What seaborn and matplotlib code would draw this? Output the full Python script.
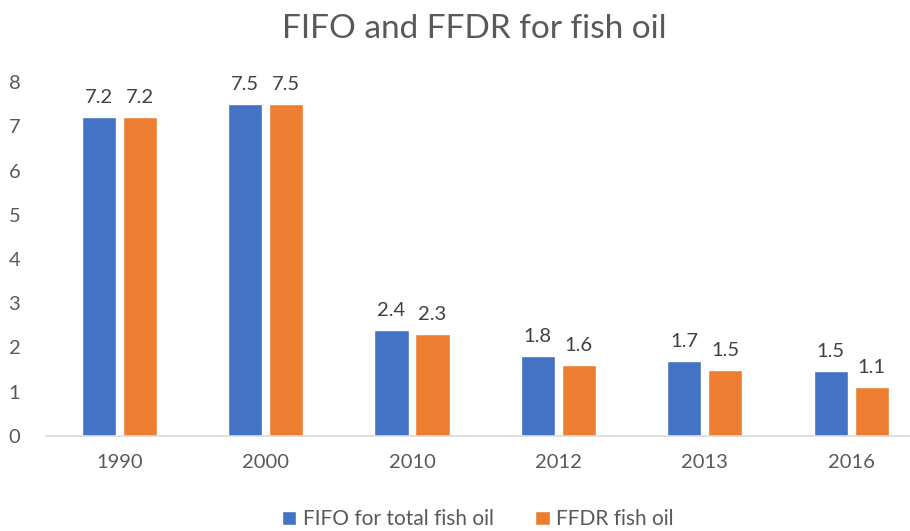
import matplotlib
matplotlib.use("Agg")
import matplotlib.pyplot as plt
import seaborn as sns
import pandas as pd

years = ["1990", "2000", "2010", "2012", "2013", "2016"]
fifo = [7.2, 7.5, 2.4, 1.8, 1.7, 1.46]
ffdr = [7.2, 7.5, 2.3, 1.6, 1.5, 1.1]
series_names = ["FIFO for total fish oil", "FFDR fish oil"]
colors = ["#4472C4", "#ED7D31"]

df = pd.DataFrame({
    "year": years * 2,
    "value": fifo + ffdr,
    "series": [series_names[0]] * len(years) + [series_names[1]] * len(years),
})

sns.set_style("white")
plt.rcParams["font.family"] = ["Lato", "DejaVu Sans"]

fig = plt.figure(figsize=(9.1, 5.31), dpi=100)
ax = fig.add_axes([46 / 910, 95 / 531, 864 / 910, (436 - 82) / 531])

sns.barplot(data=df, x="year", y="value", hue="series", order=years,
            hue_order=series_names, palette=colors, width=0.56, gap=0.17,
            ax=ax, saturation=1, legend=True)

unit = 146.4
ax.set_xlim(-0.5, -0.5 + 864 / unit)
ax.set_ylim(0, 8)
ax.set_yticks(range(0, 9))
ax.set_xlabel("")
ax.set_ylabel("")
for s in ["top", "right", "left"]:
    ax.spines[s].set_visible(False)
ax.spines["bottom"].set_color("#D9D9D9")
ax.spines["bottom"].set_linewidth(1.2)
ax.tick_params(axis="both", length=0, labelsize=14.5, colors="#595959")
ax.tick_params(axis="x", pad=13)
ax.tick_params(axis="y", pad=27)
for lab in ax.get_yticklabels():
    lab.set_horizontalalignment("left")

for cont in ax.containers:
    ax.bar_label(cont, labels=[f"{v:.1f}" for v in cont.datavalues],
                 padding=8, fontsize=14.5, color="#404040")

fig.text(0.521, 0.945, "FIFO and FFDR for fish oil", ha="center", va="center",
         fontsize=24, color="#595959")

handles, labels = ax.get_legend_handles_labels()
ax.legend_.remove()
fig.legend(handles, labels, loc="center", bbox_to_anchor=(0.525, 0.022),
           ncol=2, frameon=False, fontsize=15, handlelength=0.7,
           handleheight=0.7, handletextpad=0.3, columnspacing=2.0,
           labelcolor="#595959")

fig.savefig("out.png", dpi=100)
